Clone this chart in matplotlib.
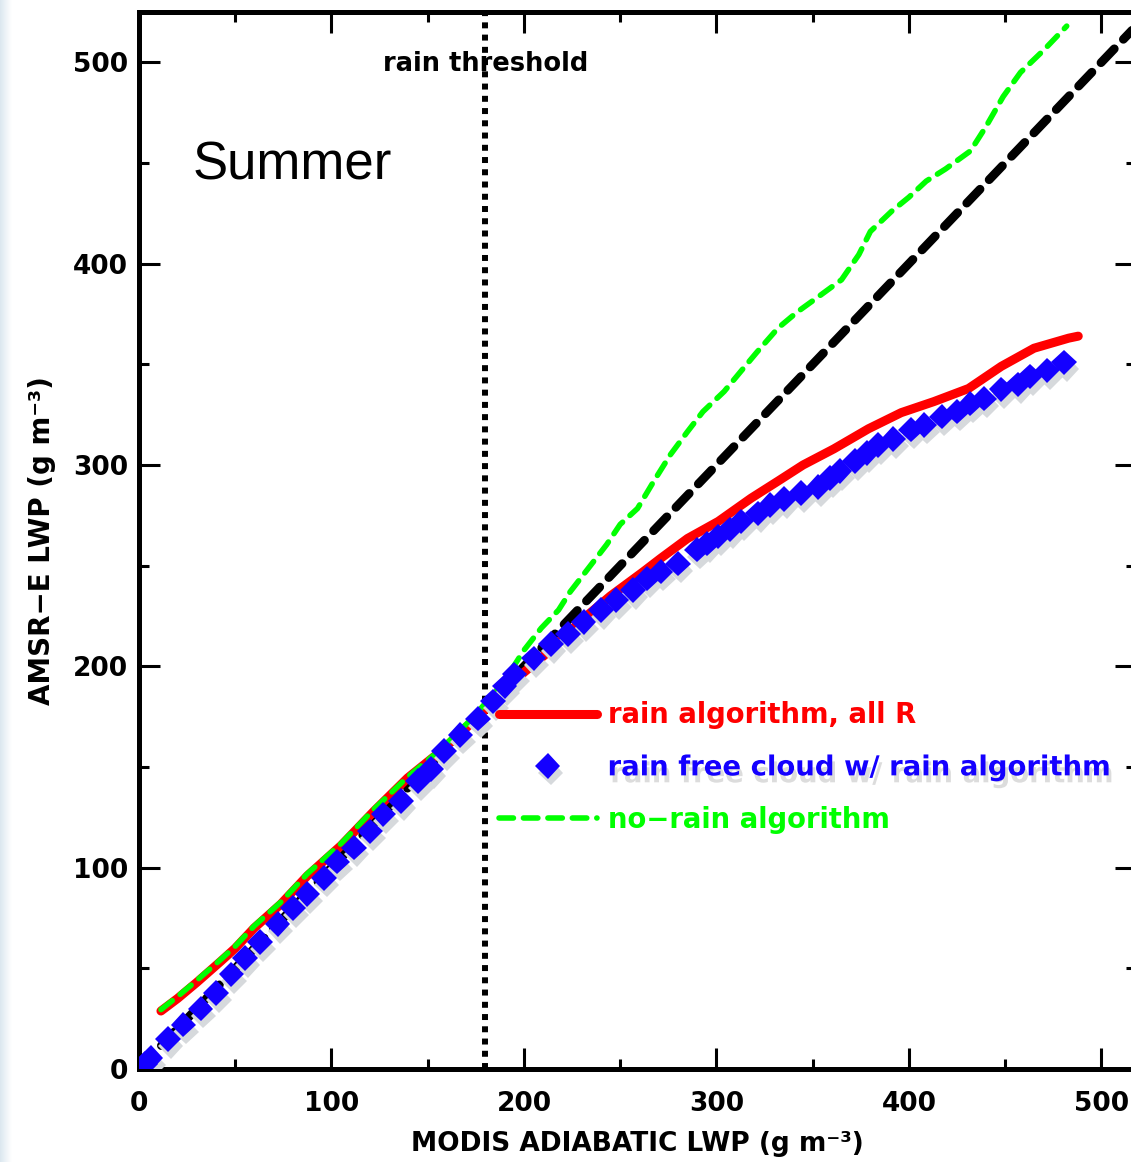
import numpy as np
import matplotlib
matplotlib.use("Agg")
import matplotlib.pyplot as plt
import matplotlib.patheffects as pe
from matplotlib.colors import LinearSegmentedColormap

# ---------------- data ----------------
red_x = [11.4, 20, 30, 42.6, 50, 59.8, 73.8, 87.5, 105, 122, 139.5, 157, 174,
         190, 200, 215, 230, 245, 262, 271, 285, 301, 318, 332, 345, 361, 379,
         396, 413, 431, 448, 465, 483, 488]
red_y = [28.8, 35, 43, 53.6, 60, 70, 82, 96, 111, 128, 144.5, 158, 173,
         188, 197, 209, 223, 235, 247, 253.6, 263.5, 272, 283.5, 292, 300, 308, 318,
         326, 331.5, 338, 349, 358, 363, 364]

green_x = [11.4, 20, 30, 42.6, 50, 59.8, 73.8, 87.5, 105, 122, 139.5, 157, 174,
           190, 200, 209, 218, 224, 235, 243, 250, 259, 267.5, 276, 285, 293, 304,
           312.6, 321, 332, 342, 353, 365, 374, 380, 391, 400, 409, 419, 432, 440,
           449, 458, 470, 482]
green_y = [29.5, 36, 44, 54.5, 61, 71, 83, 97, 112, 129, 145, 159, 175,
           193, 208, 219, 228, 237, 250.6, 260.5, 270.5, 278.4, 292, 305, 316.6, 326.5, 336.5,
           346.4, 356, 368, 376, 383.6, 392, 404.5, 416, 426, 433, 441, 447, 456, 468,
           483, 495, 506, 518]

one_to_one = [0, 530]

blue_x = [3, 6, 15, 23, 32, 40, 48, 55, 63, 72, 80, 87.5, 96, 103, 111.6, 120,
          127, 136, 145, 151.6, 158.6, 167, 176, 184, 190, 195, 205, 214, 223, 231,
          240, 248, 256.6, 264, 271, 280, 290, 295, 301, 307, 313, 321.5, 328, 335,
          344, 353, 359, 364, 372, 378, 384, 392, 401, 408, 417, 425, 432, 439,
          448, 456.6, 463, 472, 480.5]
blue_y = [2.5, 5.5, 15, 22, 30, 37.7, 47, 55, 63, 72, 80, 87, 95, 103, 110, 118,
          126.5, 133, 143, 149, 158, 166, 174, 182.6, 190, 196, 204, 211, 216, 222,
          228, 233, 238, 243.6, 247, 251, 258, 261, 264.5, 268, 272, 276, 280, 283,
          286, 289, 293.5, 297, 302, 306, 310, 313, 317.6, 320, 324, 326.5, 330.5,
          333, 337.5, 340, 344, 347, 351]

rain_threshold = 180

xticks_major = [0, 100, 200, 300, 400, 500]
yticks_major = [0, 100, 200, 300, 400, 500]
xticks_minor = [50, 150, 250, 350, 450]
yticks_minor = [50, 150, 250, 350, 450]

labels = ["rain algorithm, all R", "rain free cloud w/ rain algorithm", "no\u2212rain algorithm"]

# ---------------- figure ----------------
W, H = 1131, 1162
fig = plt.figure(figsize=(W / 100, H / 100), dpi=100)
fig.patch.set_facecolor("white")

# light blue strip on the left edge
strip = fig.add_axes([0, 0, 12 / W, 1])
grad = np.linspace(0, 1, 50).reshape(1, -1)
cm = LinearSegmentedColormap.from_list("strip", ["#dbe7ef", "#eef4f8", "#ffffff"])
strip.imshow(grad, aspect="auto", cmap=cm, extent=[0, 1, 0, 1])
strip.set_axis_off()

left = 139 / W
bottom = (H - 1069) / H
width = 997 / W
height = (1069 - 12) / H
ax = fig.add_axes([left, bottom, width, height])
ax.set_xlim(0, 518)
ax.set_ylim(0, 525)

bold = dict(family="DejaVu Sans", weight="bold")

# threshold
ax.axvline(rain_threshold, color="black", lw=4.3, linestyle=(0, (1, 1.05)),
           dash_capstyle="butt", zorder=1)
ax.text(rain_threshold, 499, "rain threshold", ha="center", va="center",
        fontsize=18.5, color="black", zorder=6, **bold)

# 1:1 line
ax.plot(one_to_one, one_to_one, color="black", lw=6.3, linestyle=(0, (2.2, 1.5)),
        dash_capstyle="round", zorder=1.5)

red_line, = ax.plot(red_x, red_y, color="#ff0000", lw=6.5, solid_capstyle="round",
                    solid_joinstyle="round", zorder=2, label=labels[0])
blue_line, = ax.plot(blue_x, blue_y, linestyle="none", marker="D", ms=13,
                     color="#1400ff", mew=0, zorder=4, label=labels[1])
blue_line.set_path_effects([pe.SimplePatchShadow(offset=(2, -5), shadow_rgbFace="#d6d9dc",
                                                 alpha=1.0), pe.Normal()])
green_line, = ax.plot(green_x, green_y, color="#00ff00", lw=4.0,
                      linestyle=(0, (2.6, 1.8)), dash_capstyle="round", zorder=3,
                      label=labels[2])

# ticks & spines
for sp in ax.spines.values():
    sp.set_linewidth(3.6)
ax.set_xticks(xticks_major)
ax.set_yticks(yticks_major)
ax.set_xticks(xticks_minor, minor=True)
ax.set_yticks(yticks_minor, minor=True)
ax.tick_params(which="both", direction="in", top=True, right=True, width=2.2)
ax.tick_params(which="major", length=15)
ax.tick_params(which="minor", length=7.5)
ax.tick_params(axis="x", which="major", pad=16)
ax.tick_params(axis="y", which="major", pad=8)
for lab in ax.get_xticklabels() + ax.get_yticklabels():
    lab.set_fontsize(19)
    lab.set_fontweight("bold")
    lab.set_family("DejaVu Sans")

ax.set_xlabel("MODIS ADIABATIC LWP (g m\u207b\u00b3)", fontsize=19, labelpad=10, **bold)
ax.set_ylabel("AMSR\u2212E LWP (g m\u207b\u00b3)", fontsize=20, labelpad=12, **bold)

ax.text(0.054, 0.855, "Summer", transform=ax.transAxes, fontsize=38,
        family="Liberation Sans", ha="left", va="center", color="black")

leg = ax.legend(handles=[red_line, blue_line, green_line], loc="upper left",
                bbox_to_anchor=(0.361, 0.348), frameon=False,
                handlelength=3.55, handletextpad=0.4, labelspacing=0.88,
                borderpad=0, borderaxespad=0, numpoints=1, labelcolor="linecolor",
                prop=dict(family="DejaVu Sans", weight="bold", size=19.8))
leg.get_texts()[1].set_path_effects([pe.SimplePatchShadow(offset=(2, -5),
                                     shadow_rgbFace="#dcdcdc", alpha=1.0), pe.Normal()])

fig.savefig("out.png", dpi=100)
